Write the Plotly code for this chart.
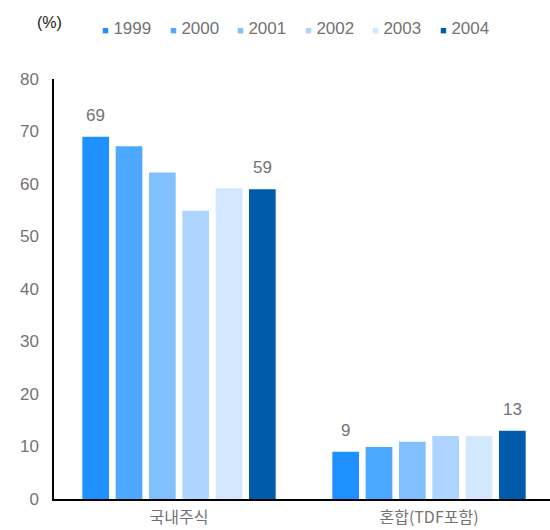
import plotly.graph_objects as go

# Fund categories and yearly shares (%)
categories = ["국내주식", "혼합(TDF포함)"]
years = ["1999", "2000", "2001", "2002", "2003", "2004"]
values_by_year = {
    "1999": [69, 9],
    "2000": [67.2, 9.9],
    "2001": [62.2, 10.9],
    "2002": [54.9, 12.0],
    "2003": [59.2, 12.0],
    "2004": [59, 13],
}
# Labelled points: (year, category index)
labelled = [("1999", 0), ("2004", 0), ("1999", 1), ("2004", 1)]

colors = ["#1E90FF", "#4DA8FF", "#80C0FF", "#AED5FF", "#D3E7FF", "#005BAC"]

TEXT_GRAY = "#737373"
FONT = "Liberation Sans, Arial, Noto Sans CJK KR, sans-serif"
BARGAP = 0.2

fig = go.Figure()
for year, color in zip(years, colors):
    fig.add_trace(go.Bar(
        name=year,
        x=categories,
        y=values_by_year[year],
        marker=dict(color=color, line=dict(width=0)),
        showlegend=False,
    ))

# value labels above selected bars
n = len(years)
slot = (1 - BARGAP) / n
for year, ci in labelled:
    i = years.index(year)
    v = values_by_year[year][ci]
    fig.add_annotation(
        x=ci + (i - (n - 1) / 2) * slot, y=v, xref="x", yref="y",
        text=f"{v:g}", showarrow=False, yanchor="bottom", yshift=10,
        font=dict(size=17, color=TEXT_GRAY, family=FONT),
    )

# legend row drawn as colored squares + labels
legend_x0 = 100
legend_pitch = 67.6
for k, (year, color) in enumerate(zip(years, colors)):
    fig.add_annotation(
        x=legend_x0 + k * legend_pitch, y=530 - 29, xref="paper", yref="paper",
        text=f"<span style='color:{color};font-size:11px'>■</span> {year}",
        showarrow=False, xanchor="left", yanchor="middle",
        font=dict(size=17, color=TEXT_GRAY, family=FONT),
    )

# unit label
fig.add_annotation(
    x=35, y=530 - 22, xref="paper", yref="paper", text="(%)",
    showarrow=False, xanchor="left", yanchor="middle",
    font=dict(size=16, color="#222222", family=FONT),
)

W, H = 550, 530
L, R, T, B = 54, 0, 79, 31
# convert legend/unit positions from pixels to paper fraction
for a in fig.layout.annotations:
    if a.xref == "paper":
        a.x = (a.x - L) / (W - L - R)
        a.y = (a.y - B) / (H - T - B)

fig.update_layout(
    width=W, height=H,
    margin=dict(l=L, r=R, t=T, b=B, pad=0, autoexpand=False),
    barmode="group", bargap=BARGAP, bargroupgap=0.2,
    plot_bgcolor="white", paper_bgcolor="white",
    font=dict(family=FONT, color=TEXT_GRAY, size=17),
    xaxis=dict(
        type="category", range=[-0.5, 1.484], automargin=False,
        showline=True, linecolor="black", linewidth=1.5,
        showgrid=False, ticks="", ticklabelstandoff=3,
        tickfont=dict(size=16, color=TEXT_GRAY, family="Noto Sans CJK KR, sans-serif"),
    ),
    yaxis=dict(
        range=[0, 80], dtick=10, tick0=0, automargin=False,
        showline=True, linecolor="black", linewidth=1.5,
        showgrid=False, zeroline=False, ticks="", ticklabelstandoff=10,
        tickfont=dict(size=17, color=TEXT_GRAY, family=FONT),
    ),
)

fig.write_html("out.html")
